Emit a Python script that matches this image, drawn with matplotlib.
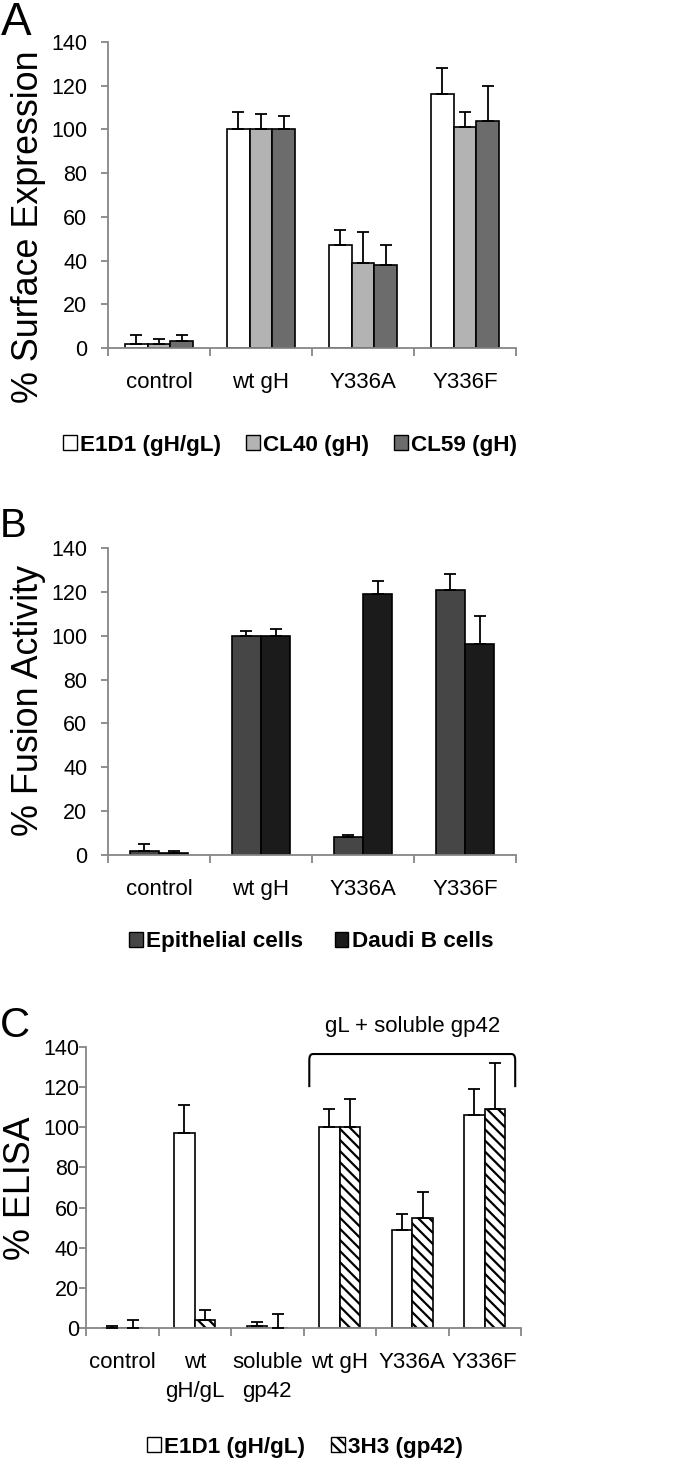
import matplotlib
matplotlib.use("Agg")
import matplotlib.pyplot as plt
import numpy as np
from matplotlib.patches import Patch
from matplotlib.path import Path
from matplotlib.patches import PathPatch

# ---------------- data ----------------
cats_A = ["control", "wt gH", "Y336A", "Y336F"]
series_A = ["E1D1 (gH/gL)", "CL40 (gH)", "CL59 (gH)"]
e1d1_A = [2, 100, 47, 116]
e1d1_A_err = [4, 8, 7, 12]
cl40_A = [2, 100, 39, 101]
cl40_A_err = [2, 7, 14, 7]
cl59_A = [3, 100, 38, 104]
cl59_A_err = [3, 6, 9, 16]

cats_B = ["control", "wt gH", "Y336A", "Y336F"]
series_B = ["Epithelial cells", "Daudi B cells"]
epi_B = [2, 100, 8, 121]
epi_B_err = [3, 2, 1, 7]
daudi_B = [1, 100, 119, 96]
daudi_B_err = [1, 3, 6, 13]

cats_C = ["control", "wt\ngH/gL", "soluble\ngp42", "wt gH", "Y336A", "Y336F"]
series_C = ["E1D1 (gH/gL)", "3H3 (gp42)"]
e1d1_C = [0, 97, 1, 100, 49, 106]
e1d1_C_err = [1, 14, 2, 9, 8, 13]
h3_C = [0, 4, 0, 100, 55, 109]
h3_C_err = [4, 5, 7, 14, 13, 23]

yticks = [0, 20, 40, 60, 80, 100, 120, 140]

# ---------------- style ----------------
FONT = ["Liberation Sans", "DejaVu Sans"]
plt.rcParams["font.family"] = FONT
AXC = "#868686"
W, H = 700, 1466
fig = plt.figure(figsize=(W / 100, H / 100), dpi=100)

TICK_FS = 15.5
CAT_FS = 16
LEG_FS = 16.2
YLAB_FS = 25.8


def px_axes(left, right, top, bottom):
    return fig.add_axes([left / W, 1 - bottom / H, (right - left) / W, (bottom - top) / H])


def style_axes(ax, cats, tickpad):
    n = len(cats)
    ax.set_xlim(-0.5, n - 0.5)
    ax.set_ylim(0, 140)
    for s in ["top", "right"]:
        ax.spines[s].set_visible(False)
    for s in ["left", "bottom"]:
        ax.spines[s].set_color(AXC)
        ax.spines[s].set_linewidth(1.3)
    ax.set_yticks(yticks)
    ax.set_yticklabels([str(v) for v in yticks], fontsize=TICK_FS)
    ax.tick_params(axis="y", direction="out", length=5, width=1.3, color=AXC, pad=tickpad)
    ax.set_xticks(np.arange(n))
    ax.set_xticklabels(cats, fontsize=CAT_FS, linespacing=1.5)
    ax.tick_params(axis="x", which="major", length=0, pad=17)
    ax.set_xticks(np.arange(n + 1) - 0.5, minor=True)
    ax.tick_params(axis="x", which="minor", direction="out", length=6, width=1.3, color=AXC)
    ax.set_facecolor("none")


def bars(ax, series_vals, series_errs, colors, hatches, gap=1.5):
    nser = len(series_vals)
    bw = 1.0 / (nser + gap)
    for i, (vals, errs, c, h) in enumerate(zip(series_vals, series_errs, colors, hatches)):
        x = np.arange(len(vals)) + (i - (nser - 1) / 2) * bw
        ax.bar(x, vals, width=bw, color=c, edgecolor="black", linewidth=1.2, hatch=h, zorder=2)
        ax.errorbar(x, vals, yerr=[np.zeros(len(errs)), errs], fmt="none", ecolor="black",
                    elinewidth=1.3, capsize=4, capthick=1.3, zorder=3)


def legend(handles, labels, cx, cy, ncol, colsp):
    fig.legend(handles, labels, loc="center", bbox_to_anchor=(cx / W, 1 - cy / H), ncol=ncol,
               frameon=False, prop={"size": LEG_FS, "weight": "bold"},
               handlelength=0.62, handleheight=0.66, handletextpad=0.15, columnspacing=colsp,
               borderpad=0, borderaxespad=0)


plt.rcParams["hatch.linewidth"] = 1.6

# ---------------- panel A ----------------
axA = px_axes(108, 516, 42, 348)
style_axes(axA, cats_A, 10)
colsA = ["white", "#b3b3b3", "#6c6c6c"]
bars(axA, [e1d1_A, cl40_A, cl59_A], [e1d1_A_err, cl40_A_err, cl59_A_err], colsA, [None] * 3)
fig.text(29 / W, 1 - 227 / H, "% Surface Expression", rotation=90, ha="center", va="center",
         fontsize=YLAB_FS)
fig.text(1 / W, 1 - 35 / H, "A", ha="left", va="baseline", fontsize=33)
hA = [Patch(facecolor=c, edgecolor="black", linewidth=1.0) for c in colsA]
legend(hA, series_A, 290, 445, 3, 1.1)

# ---------------- panel B ----------------
axB = px_axes(108, 516, 548, 855)
style_axes(axB, cats_B, 10)
colsB = ["#464646", "#1b1b1b"]
bars(axB, [epi_B, daudi_B], [epi_B_err, daudi_B_err], colsB, [None] * 2)
fig.text(29 / W, 1 - 700 / H, "% Fusion Activity", rotation=90, ha="center", va="center",
         fontsize=YLAB_FS)
fig.text(0 / W, 1 - 537 / H, "B", ha="left", va="baseline", fontsize=29)
hB = [Patch(facecolor=c, edgecolor="black", linewidth=1.0) for c in colsB]
legend(hB, series_B, 311, 942, 2, 1.4)

# ---------------- panel C ----------------
axC = px_axes(86, 521, 1047, 1328)
style_axes(axC, cats_C, 0)
colsC = ["white", "white"]
bars(axC, [e1d1_C, h3_C], [e1d1_C_err, h3_C_err], colsC, [None, "\\\\\\"])
fig.text(21 / W, 1 - 1188 / H, "% ELISA", rotation=90, ha="center", va="center",
         fontsize=YLAB_FS)
fig.text(0 / W, 1 - 1037 / H, "C", ha="left", va="baseline", fontsize=30)
hC = [Patch(facecolor="white", edgecolor="black", linewidth=1.0),
      Patch(facecolor="white", edgecolor="black", linewidth=1.0, hatch="\\\\\\")]
legend(hC, series_C, 305, 1447, 2, 1.15)

# bracket over gL + soluble gp42 groups (groups 3..5)
g0, g1 = 3 - 0.42, 5 + 0.42
ytop, ybot, r = 136.5, 120, 0.05
verts = [(g0, ybot), (g0, ytop - 3), (g0, ytop), (g0 + r, ytop),
         (g1 - r, ytop), (g1, ytop), (g1, ytop - 3), (g1, ybot)]
codes = [Path.MOVETO, Path.LINETO, Path.CURVE3, Path.CURVE3,
         Path.LINETO, Path.CURVE3, Path.CURVE3, Path.LINETO]
axC.add_patch(PathPatch(Path(verts, codes), facecolor="none", edgecolor="black",
                        linewidth=1.5, clip_on=False))
axC.text(4.0, 150, "gL + soluble gp42", ha="center", va="center", fontsize=16, clip_on=False)

fig.savefig("out.png", dpi=100)
